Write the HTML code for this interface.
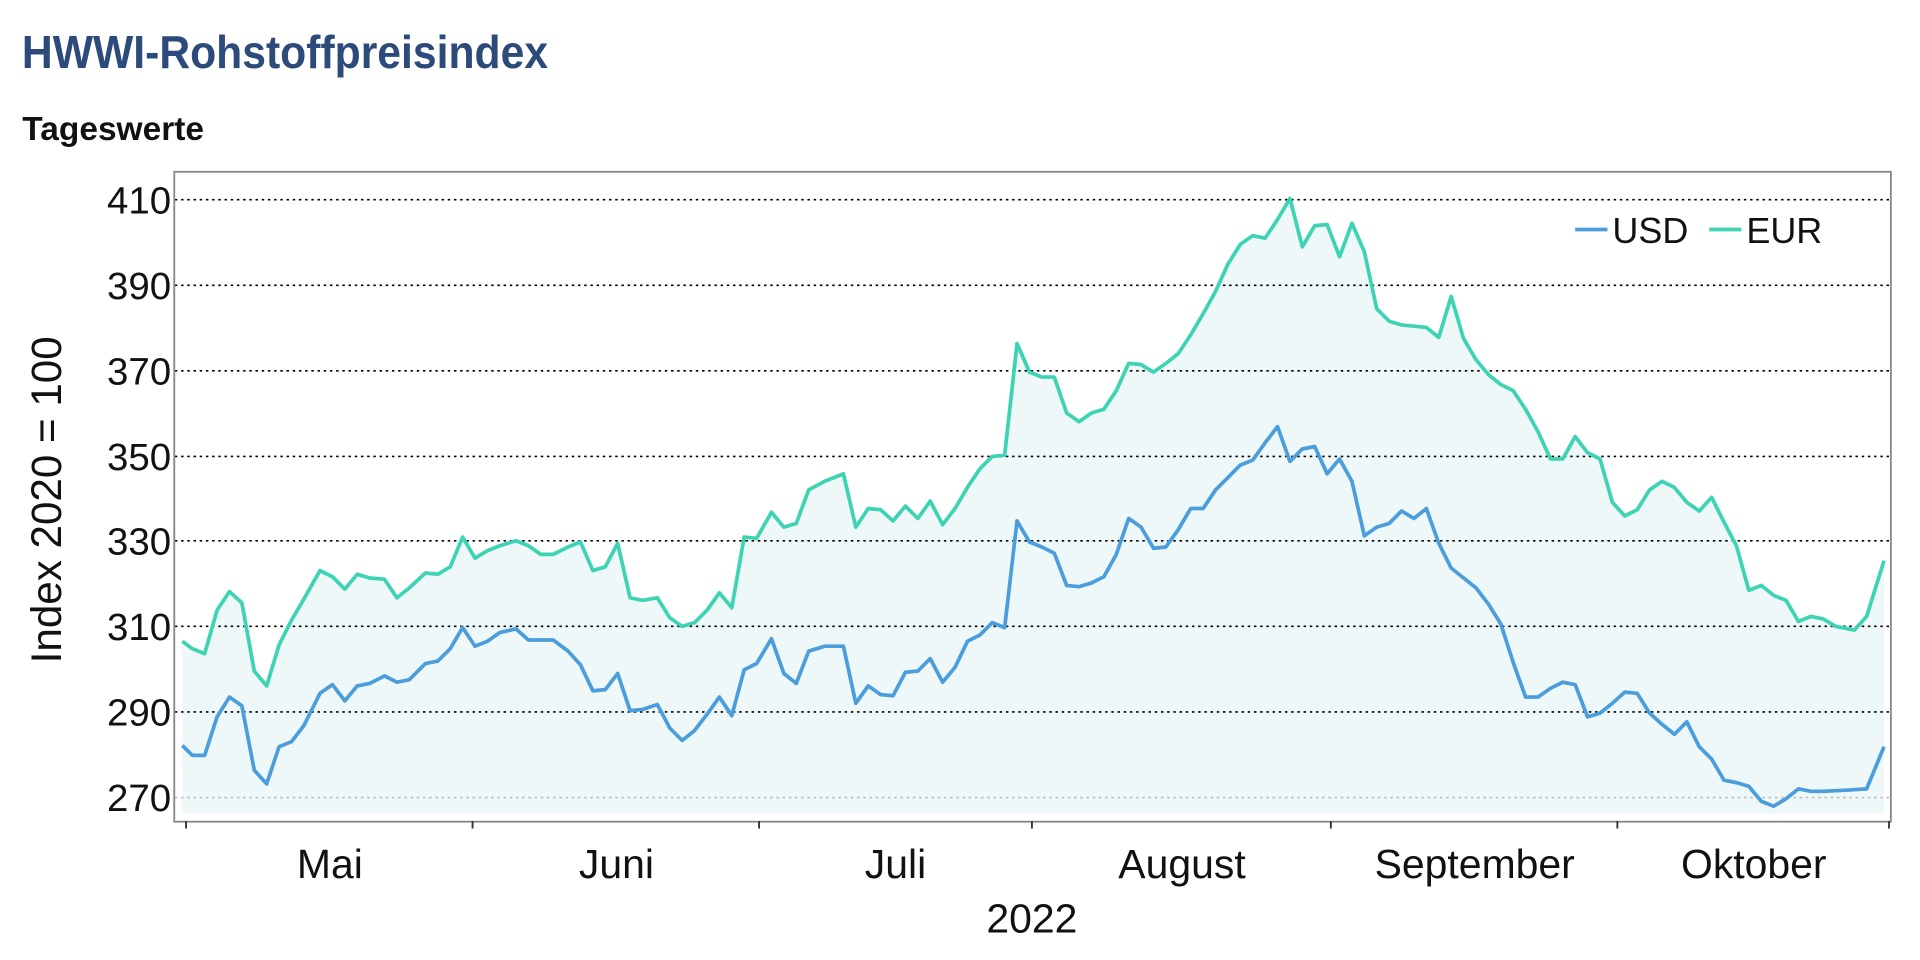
<!DOCTYPE html>
<html><head><meta charset="utf-8"><style>
html,body{margin:0;padding:0;background:#fff;width:1920px;height:960px;overflow:hidden}
svg{display:block}
text{font-family:"Liberation Sans",sans-serif}
</style></head><body>
<svg width="1920" height="960" viewBox="0 0 1548 774" xmlns="http://www.w3.org/2000/svg">
<text x="19" y="55" font-size="37" font-weight="bold" fill="#2c4a7a" transform="scale(0.93,1)">HWWI-Rohstoffpreisindex</text>
<text x="18" y="113" font-size="27" font-weight="bold" fill="#111">Tageswerte</text>
<polygon fill="#eef8f9" points="147,517 155,523 165,527 175,492 185,477 195,486 205,541 215,553 225,520 235,500 245,483 258,460 268,465 278,475 288,463 298,466 310,467 320,482 330,474 343,462 353,463 363,457 373,433 383,450 393,444 403,440 416,436 426,440 436,447 446,447 458,441 468,437 478,460 488,457 498,438 508,482 518,484 530,482 540,498 550,505 560,502 570,492 580,478 590,490 600,433 610,434 622,413 632,425 642,422 652,395 665,388 680,382 690,425 700,410 710,411 720,420 730,408 740,418 750,404 760,423 770,410 780,393 790,378 800,368 810,367 820,277 830,300 840,304 850,304 860,333 870,340 880,333 890,330 900,315 910,293 920,294 930,300 940,293 950,285 960,270 970,253 980,235 990,213 1000,197 1010,190 1020,192 1030,177 1040,160 1050,199 1060,182 1070,181 1080,207 1090,180 1100,203 1110,249 1120,259 1130,262 1150,264 1160,272 1170,239 1180,273 1190,290 1200,302 1210,310 1220,315 1230,330 1240,348 1250,370 1260,370 1270,352 1280,365 1290,370 1300,405 1310,416 1320,411 1330,395 1340,388 1350,393 1360,405 1370,412 1380,401 1390,421 1400,440 1410,476 1420,472 1430,480 1440,484 1450,501 1460,497 1470,499 1480,505 1495,508 1505,497 1519,452 1519,656 147,656"/>
<g stroke="#000" stroke-width="1.3" stroke-dasharray="2,3">
<line x1="141" x2="1524" y1="161" y2="161"/><line x1="141" x2="1524" y1="230" y2="230"/><line x1="141" x2="1524" y1="299" y2="299"/><line x1="141" x2="1524" y1="368" y2="368"/><line x1="141" x2="1524" y1="436" y2="436"/><line x1="141" x2="1524" y1="505" y2="505"/><line x1="141" x2="1524" y1="574" y2="574"/><line x1="141" x2="1524" y1="643" y2="643" stroke="#bbb"/>
</g>
<rect x="140.5" y="138.5" width="1384" height="524" fill="none" stroke="#888" stroke-width="1.5"/>
<polyline fill="none" stroke="#3ed3b3" stroke-width="3" stroke-linejoin="round" points="147,517 155,523 165,527 175,492 185,477 195,486 205,541 215,553 225,520 235,500 245,483 258,460 268,465 278,475 288,463 298,466 310,467 320,482 330,474 343,462 353,463 363,457 373,433 383,450 393,444 403,440 416,436 426,440 436,447 446,447 458,441 468,437 478,460 488,457 498,438 508,482 518,484 530,482 540,498 550,505 560,502 570,492 580,478 590,490 600,433 610,434 622,413 632,425 642,422 652,395 665,388 680,382 690,425 700,410 710,411 720,420 730,408 740,418 750,404 760,423 770,410 780,393 790,378 800,368 810,367 820,277 830,300 840,304 850,304 860,333 870,340 880,333 890,330 900,315 910,293 920,294 930,300 940,293 950,285 960,270 970,253 980,235 990,213 1000,197 1010,190 1020,192 1030,177 1040,160 1050,199 1060,182 1070,181 1080,207 1090,180 1100,203 1110,249 1120,259 1130,262 1150,264 1160,272 1170,239 1180,273 1190,290 1200,302 1210,310 1220,315 1230,330 1240,348 1250,370 1260,370 1270,352 1280,365 1290,370 1300,405 1310,416 1320,411 1330,395 1340,388 1350,393 1360,405 1370,412 1380,401 1390,421 1400,440 1410,476 1420,472 1430,480 1440,484 1450,501 1460,497 1470,499 1480,505 1495,508 1505,497 1519,452"/>
<polyline fill="none" stroke="#4b9edb" stroke-width="3" stroke-linejoin="round" points="147,601 155,609 165,609 175,578 185,562 195,569 205,621 215,632 225,602 235,598 245,585 258,559 268,552 278,565 288,553 298,551 310,545 320,550 330,548 343,535 353,533 363,523 373,506 383,521 393,517 403,510 416,507 426,516 436,516 446,516 458,525 468,536 478,557 488,556 498,543 508,573 518,572 530,568 540,587 550,597 560,589 570,576 580,562 590,577 600,540 610,535 622,515 632,543 642,551 652,525 665,521 680,521 690,567 700,553 710,560 720,561 730,542 740,541 750,531 760,550 770,538 780,517 790,512 800,502 810,506 820,420 830,437 840,441 850,446 860,472 870,473 880,470 890,465 900,447 910,418 920,425 930,442 940,441 950,427 960,410 970,410 980,395 990,385 1000,375 1010,371 1020,357 1030,344 1040,372 1050,362 1060,360 1070,382 1080,370 1090,388 1100,432 1110,425 1120,422 1130,412 1140,418 1150,410 1160,438 1170,458 1180,466 1190,474 1200,487 1210,503 1220,534 1230,562 1240,562 1250,555 1260,550 1270,552 1280,578 1290,575 1300,567 1310,558 1320,559 1330,575 1340,584 1350,592 1360,582 1370,602 1380,612 1390,629 1400,631 1410,634 1420,646 1430,650 1440,644 1450,636 1460,638 1470,638 1490,637 1505,636 1519,602"/>
<g stroke="#333" stroke-width="1.5">
<line x1="150" x2="150" y1="662" y2="668"/><line x1="381" x2="381" y1="662" y2="668"/><line x1="612" x2="612" y1="662" y2="668"/><line x1="832" x2="832" y1="662" y2="668"/><line x1="1073" x2="1073" y1="662" y2="668"/><line x1="1304" x2="1304" y1="662" y2="668"/><line x1="1523" x2="1523" y1="662" y2="668"/>
</g>
<g font-size="31" text-anchor="end" fill="#111">
<text x="138" y="172">410</text><text x="138" y="241">390</text><text x="138" y="310">370</text><text x="138" y="379">350</text><text x="138" y="447">330</text><text x="138" y="516">310</text><text x="138" y="585">290</text><text x="138" y="654">270</text>
</g>
<text transform="translate(49,403) rotate(-90)" font-size="34" text-anchor="middle" fill="#111">Index 2020 = 100</text>
<g font-size="33" text-anchor="middle" fill="#111">
<text x="266" y="708">Mai</text><text x="497" y="708">Juni</text><text x="722" y="708">Juli</text><text x="953" y="708">August</text><text x="1189" y="708">September</text><text x="1414" y="708">Oktober</text>
<text x="832" y="752">2022</text>
</g>
<line x1="1270" x2="1296" y1="185" y2="185" stroke="#4b9edb" stroke-width="3"/>
<text x="1300" y="196" font-size="29" fill="#111">USD</text>
<line x1="1378" x2="1404" y1="185" y2="185" stroke="#3ed3b3" stroke-width="3"/>
<text x="1408" y="196" font-size="29" fill="#111">EUR</text>
</svg>
</body></html>
